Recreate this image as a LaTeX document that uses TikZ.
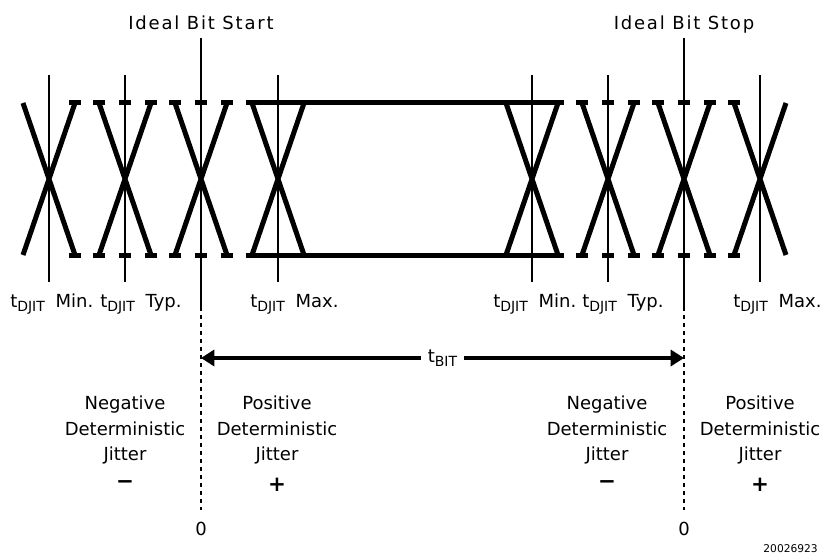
\documentclass[tikz,border=0pt]{standalone}
\usepackage{fontspec}
\setmainfont{DejaVu Sans}
\newfontfamily\titlefont[LetterSpace=10]{DejaVu Sans}
\usepackage{tikz}
\usetikzlibrary{arrows.meta}

\newcommand{\tsub}[1]{t\raisebox{-0.45ex}{\fontsize{10.5}{12}\selectfont #1}}

\begin{document}
\begin{tikzpicture}[x=0.75pt,y=-0.75pt,
        every node/.style={font=\fontsize{13.5}{18}\selectfont, inner sep=0pt},
        edge/.style={line width=3.75pt},
        grid/.style={line width=0.8pt},
        zero/.style={line width=0.8pt, dash pattern=on 3pt off 3pt}]
        \useasboundingbox (0,0) rectangle (820,556);

        %=== Crossings ===
        \foreach \cx in {49,125,201,278,532,608,684,760}
            \draw[edge] (\cx-26,103) -- (\cx+26,255) (\cx+26,103) -- (\cx-26,255);

        \draw[edge] (246,103) -- (564,103) (246,255) -- (564,255);
        \foreach \t in {75,99,125,151,175,201,227,582,608,634,658,684,710,734}
            \draw[edge] (\t-6,103) -- (\t+6,103) (\t-6,255) -- (\t+6,255);

        %=== Jitter marks ===
        \foreach \x/\text in {49/Min., 125/Typ., 278/Max., 532/Min., 608/Typ., 760/Max.}
            \draw[grid] (\x,75) -- (\x,282);
        \foreach \x/\text [count=\i] in {10/Min., 100/Typ., 250/Max., 493/Min., 582/Typ., 733/Max.}
            \node[anchor=base west] (lab\i) at (\x,307) {\tsub{DJIT}\hspace{8pt}\text};

        %=== Ideal bit ===
        \node[anchor=base, font=\titlefont\fontsize{13.5}{18}\selectfont] (start) at (201,30) {Ideal Bit Start};
        \node[anchor=base, font=\titlefont\fontsize{13.5}{18}\selectfont] (stop) at (684,30) {Ideal Bit Stop};
        \coordinate (start end) at (201,307);
        \coordinate (stop end) at (684,307);
        \draw[grid] (201,38) -- (start end);
        \draw[grid] (684,38) -- (stop end);
        \node (zero1) at (201,529) {0};
        \node (zero2) at (684,529) {0};
        \draw[zero] (start end) -- (201,510);
        \draw[zero] (stop end) -- (684,510);

        \coordinate (bit a) at (201,358);
        \coordinate (bit b) at (684,358);
        \draw[line width=3.5pt, {Triangle[length=10pt,width=12pt]}-{Triangle[length=10pt,width=12pt]}]
            (bit a) -- node[fill=white, inner xsep=5pt, inner ysep=2pt] (tbit) {\tsub{BIT}} (bit b);

        %=== Legend ===
        \foreach \x/\word/\sign [count=\i] in {125/Negative/{\textminus}, 277/Positive/+, 607/Negative/{\textminus}, 760/Positive/+}
        {
            \node[anchor=base] (kind\i) at (\x,409) {\word};
            \node[anchor=base] (det\i) at (\x,435) {Deterministic};
            \node[anchor=base] (jit\i) at (\x,460) {Jitter};
            \node[font=\fontsize{16}{18}\selectfont\bfseries] (sign\i) at (\x,485) {\sign};
        }

        \node[anchor=base east, font=\fontsize{8}{10}\selectfont] (fig) at (818,552) {20026923};
    \end{tikzpicture}
\end{document}
